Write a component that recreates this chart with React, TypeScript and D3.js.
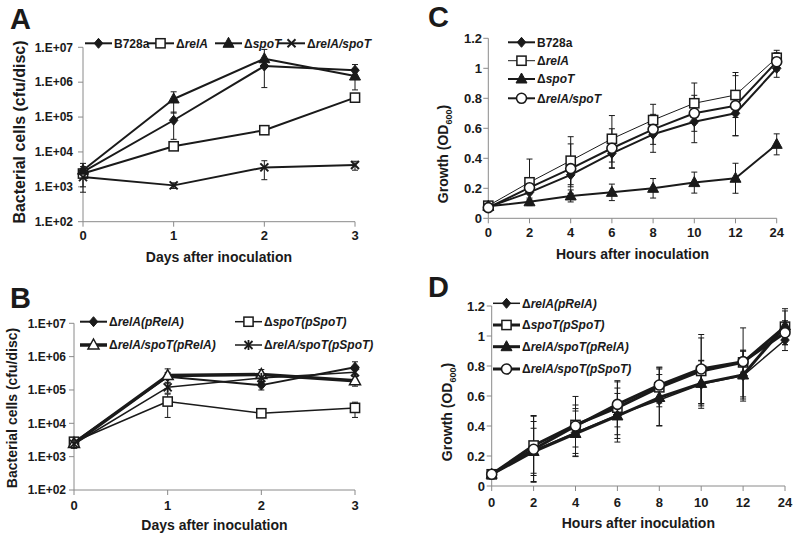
import React from "react";
import * as d3 from "d3";

// ---------- shared ticks ----------
const days = [0, 1, 2, 3];
const hours = ["0", "2", "4", "6", "8", "10", "12", "24"];
const logTicks = [1e2, 1e3, 1e4, 1e5, 1e6, 1e7];
const odTicks = [0, 0.2, 0.4, 0.6, 0.8, 1, 1.2];

// ---------- Panel A ----------
const aB728a = [2700, 81000, 2900000, 2200000];
const aB728aSd = [2000, 58000, 300000, 1000000];
const aRelA = [2400, 14500, 42000, 360000];
const aRelASd = [500, 2000, 5000, 40000];
const aSpoT = [3000, 330000, 4700000, 1500000];
const aSpoTSd = [800, 200000, 4000000, 900000];
const aRelASpoT = [1900, 1100, 3600, 4200];
const aRelASpoTSd = [900, 200, 2000, 1200];

// ---------- Panel B ----------
const bRelAp = [2700, 250000, 140000, 480000];
const bRelApSd = [800, 80000, 40000, 220000];
const bSpoTp = [2800, 45000, 20000, 29000];
const bSpoTpSd = [600, 30000, 3000, 14000];
const bRelASpoTpRelA = [2500, 270000, 290000, 190000];
const bRelASpoTpRelASd = [700, 160000, 120000, 60000];
const bRelASpoTpSpoT = [2400, 120000, 230000, 340000];
const bRelASpoTpSpoTSd = [600, 40000, 60000, 80000];

// ---------- Panel C ----------
const cB728a = [0.075, 0.173, 0.29, 0.433, 0.56, 0.644, 0.7, 1.0];
const cB728aSd = [0.01, 0.05, 0.08, 0.1, 0.12, 0.14, 0.15, 0.06];
const cRelA = [0.084, 0.24, 0.384, 0.53, 0.655, 0.767, 0.822, 1.07];
const cRelASd = [0.01, 0.155, 0.16, 0.155, 0.105, 0.135, 0.15, 0.05];
const cSpoT = [0.08, 0.11, 0.149, 0.173, 0.2, 0.238, 0.267, 0.493];
const cSpoTSd = [0.01, 0.025, 0.04, 0.055, 0.065, 0.07, 0.1, 0.07];
const cRelASpoT = [0.071, 0.204, 0.331, 0.467, 0.593, 0.7, 0.751, 1.044];
const cRelASpoTSd = [0.01, 0.04, 0.165, 0.13, 0.1, 0.12, 0.2, 0.06];

// ---------- Panel D ----------
const dRelAp = [0.078, 0.235, 0.356, 0.473, 0.573, 0.678, 0.736, 0.973];
const dRelApSd = [0.01, 0.15, 0.16, 0.18, 0.17, 0.16, 0.17, 0.07];
const dSpoTp = [0.078, 0.27, 0.407, 0.522, 0.658, 0.767, 0.824, 1.062];
const dSpoTpSd = [0.01, 0.2, 0.19, 0.18, 0.13, 0.22, 0.23, 0.12];
const dRelASpoTpRelA = [0.078, 0.23, 0.35, 0.467, 0.59, 0.684, 0.74, 1.067];
const dRelASpoTpRelASd = [0.01, 0.2, 0.15, 0.15, 0.19, 0.15, 0.16, 0.1];
const dRelASpoTpSpoT = [0.078, 0.245, 0.4, 0.544, 0.673, 0.78, 0.829, 1.022];
const dRelASpoTpSpoTSd = [0.01, 0.22, 0.14, 0.15, 0.12, 0.23, 0.07, 0.08];

const FONT = "'Liberation Sans', Arial, Helvetica, sans-serif";
const AXIS = "#8a8a8a";
const INK = "#1a1a1a";

type Series = {
  name: string;
  values: number[];
  sd: number[];
  marker: string;
  lw: number;
};

function Marker({ type, x, y }: { type: string; x: number; y: number }) {
  const s = 5;
  switch (type) {
    case "diamond":
      return (
        <path d={`M${x},${y - s}L${x + s * 0.85},${y}L${x},${y + s}L${x - s * 0.85},${y}Z`} fill={INK} stroke={INK} strokeWidth={1} />
      );
    case "square":
      return <rect x={x - 4.6} y={y - 4.6} width={9.2} height={9.2} fill="#fff" stroke={INK} strokeWidth={1.5} />;
    case "triangle":
      return <path d={`M${x},${y - 6}L${x + 5.5},${y + 4}L${x - 5.5},${y + 4}Z`} fill={INK} stroke={INK} strokeWidth={1} />;
    case "triangleOpen":
      return <path d={`M${x},${y - 6}L${x + 5.5},${y + 4}L${x - 5.5},${y + 4}Z`} fill="#fff" stroke={INK} strokeWidth={1.5} />;
    case "circle":
      return <circle cx={x} cy={y} r={5} fill="#fff" stroke={INK} strokeWidth={1.6} />;
    case "x":
      return (
        <g stroke={INK} strokeWidth={2}>
          <line x1={x - 4} y1={y - 4} x2={x + 4} y2={y + 4} />
          <line x1={x - 4} y1={y + 4} x2={x + 4} y2={y - 4} />
        </g>
      );
    case "star":
      return (
        <g stroke={INK} strokeWidth={1.8}>
          <line x1={x - 4} y1={y - 4} x2={x + 4} y2={y + 4} />
          <line x1={x - 4} y1={y + 4} x2={x + 4} y2={y - 4} />
          <line x1={x} y1={y - 5} x2={x} y2={y + 5} />
        </g>
      );
    default:
      return null;
  }
}

function Label({ text, x, y, size = 12, anchor = "start" }: { text: string; x: number; y: number; size?: number; anchor?: string }) {
  const delta = text.startsWith("Δ");
  return (
    <text x={x} y={y} fontFamily={FONT} fontSize={size} fontWeight="bold" fill={INK} textAnchor={anchor}>
      {delta ? (
        <>
          <tspan>Δ</tspan>
          <tspan fontStyle="italic">{text.slice(1)}</tspan>
        </>
      ) : (
        text
      )}
    </text>
  );
}

function PanelSeries({ series, xs, y }: { series: Series[]; xs: number[]; y: (v: number) => number }) {
  const line = d3.line<[number, number]>().x((d) => d[0]).y((d) => d[1]);
  return (
    <g>
      {series.map((s, si) => (
        <g key={"e" + si} stroke={INK} strokeWidth={1}>
          {s.values.map((v, i) => {
            const x = xs[i];
            const hi = y(v + s.sd[i]);
            const lo = y(v - s.sd[i]);
            return (
              <g key={i}>
                <line x1={x} x2={x} y1={hi} y2={lo} />
                <line x1={x - 3} x2={x + 3} y1={hi} y2={hi} />
                <line x1={x - 3} x2={x + 3} y1={lo} y2={lo} />
              </g>
            );
          })}
        </g>
      ))}
      {series.map((s, si) => (
        <g key={"s" + si}>
          <path d={line(s.values.map((v, i) => [xs[i], y(v)]) as [number, number][]) || ""} fill="none" stroke={INK} strokeWidth={s.lw} strokeLinejoin="round" />
          {s.values.map((v, i) => (
            <Marker key={i} type={s.marker} x={xs[i]} y={y(v)} />
          ))}
        </g>
      ))}
    </g>
  );
}

function LegendItem({ s, x, y, len = 27 }: { s: Series; x: number; y: number; len?: number }) {
  return (
    <g>
      <line x1={x} x2={x + len} y1={y} y2={y} stroke={INK} strokeWidth={s.lw} />
      <Marker type={s.marker} x={x + len / 2} y={y} />
      <Label text={s.name} x={x + len + 2} y={y + 4.3} size={12} />
    </g>
  );
}

function LogPanel({
  letter, letterY, x0, x1, yTop, yBot, series, legendPos, yTitleSize, yTitleX, yTitleY, tickBase, titleBase, tickRight,
}: any) {
  const x = d3.scaleLinear().domain([0, 3]).range([x0, x1]);
  const y = d3.scaleLog().domain([1e2, 1e7]).range([yBot, yTop]);
  const yc = (v: number) => y(Math.max(1e2, Math.min(1e7, v)));
  const xs = days.map((d) => x(d));
  return (
    <g>
      <text x={10} y={letterY} fontFamily={FONT} fontWeight="bold" fontSize={29} fill={INK}>{letter}</text>
      <line x1={x0} x2={x0} y1={yTop} y2={yBot} stroke={AXIS} strokeWidth={1} />
      <line x1={x0} x2={x1} y1={yBot} y2={yBot} stroke={AXIS} strokeWidth={1} />
      {logTicks.map((t) => (
        <g key={t}>
          <line x1={x0 - 5} x2={x0} y1={y(t)} y2={y(t)} stroke={AXIS} />
          <text x={tickRight} y={y(t) + 4.3} textAnchor="end" fontFamily={FONT} fontWeight="bold" fontSize={12} fill={INK}>
            {"1.E+0" + Math.round(Math.log10(t))}
          </text>
        </g>
      ))}
      {days.map((d) => (
        <g key={d}>
          <line x1={x(d)} x2={x(d)} y1={yBot} y2={yBot + 5} stroke={AXIS} />
          <text x={x(d)} y={tickBase} textAnchor="middle" fontFamily={FONT} fontWeight="bold" fontSize={13} fill={INK}>{d}</text>
        </g>
      ))}
      <text x={(x0 + x1) / 2} y={titleBase} textAnchor="middle" fontFamily={FONT} fontWeight="bold" fontSize={14} fill={INK}>Days after inoculation</text>
      <text transform={`translate(${yTitleX},${yTitleY}) rotate(-90)`} textAnchor="middle" fontFamily={FONT} fontWeight="bold" fontSize={yTitleSize} fill={INK}>Bacterial cells (cfu/disc)</text>
      <PanelSeries series={series} xs={xs} y={yc} />
      {series.map((s: Series, i: number) => (
        <LegendItem key={i} s={s} x={legendPos[i][0]} y={legendPos[i][1]} />
      ))}
    </g>
  );
}

function ODPanel({ letter, letterY, x0, x1, yTop, yBot, series, legendX, legendYs, yTitleY, tickRight, tickBase, titleBase }: any) {
  const x = d3.scalePoint().domain(hours).range([x0, x1]).padding(0);
  const y = d3.scaleLinear().domain([0, 1.2]).range([yBot, yTop]);
  const xs = hours.map((h) => x(h) as number);
  const yTitleX = x0 - 40;
  return (
    <g>
      <text x={428} y={letterY} fontFamily={FONT} fontWeight="bold" fontSize={29} fill={INK}>{letter}</text>
      <line x1={x0} x2={x0} y1={yTop} y2={yBot} stroke={AXIS} strokeWidth={1} />
      <line x1={x0} x2={x1} y1={yBot} y2={yBot} stroke={AXIS} strokeWidth={1} />
      {odTicks.map((t) => (
        <g key={t}>
          <line x1={x0 - 5} x2={x0} y1={y(t)} y2={y(t)} stroke={AXIS} />
          <text x={tickRight} y={y(t) + 4.5} textAnchor="end" fontFamily={FONT} fontWeight="bold" fontSize={13} fill={INK}>
            {d3.format("~g")(t)}
          </text>
        </g>
      ))}
      {hours.map((h) => (
        <g key={h}>
          <line x1={x(h)!} x2={x(h)!} y1={yBot} y2={yBot + 5} stroke={AXIS} />
          <text x={x(h)!} y={tickBase} textAnchor="middle" fontFamily={FONT} fontWeight="bold" fontSize={13} fill={INK}>{h}</text>
        </g>
      ))}
      <text x={(x0 + x1) / 2} y={titleBase} textAnchor="middle" fontFamily={FONT} fontWeight="bold" fontSize={14} fill={INK}>Hours after inoculation</text>
      <text transform={`translate(${yTitleX},${yTitleY}) rotate(-90)`} textAnchor="middle" fontFamily={FONT} fontWeight="bold" fontSize={14} fill={INK}>
        Growth (OD<tspan fontSize={9} dy={4}>600</tspan><tspan dy={-4}>)</tspan>
      </text>
      <PanelSeries series={series} xs={xs} y={y} />
      {series.map((s: Series, i: number) => (
        <LegendItem key={i} s={s} x={legendX} y={legendYs[i]} />
      ))}
    </g>
  );
}

export default function App() {
  const seriesA: Series[] = [
    { name: "B728a", values: aB728a, sd: aB728aSd, marker: "diamond", lw: 2 },
    { name: "ΔrelA", values: aRelA, sd: aRelASd, marker: "square", lw: 2 },
    { name: "ΔspoT", values: aSpoT, sd: aSpoTSd, marker: "triangle", lw: 2 },
    { name: "ΔrelA/spoT", values: aRelASpoT, sd: aRelASpoTSd, marker: "x", lw: 2 },
  ];
  const seriesB: Series[] = [
    { name: "ΔrelA(pRelA)", values: bRelAp, sd: bRelApSd, marker: "diamond", lw: 2 },
    { name: "ΔspoT(pSpoT)", values: bSpoTp, sd: bSpoTpSd, marker: "square", lw: 1.5 },
    { name: "ΔrelA/spoT(pRelA)", values: bRelASpoTpRelA, sd: bRelASpoTpRelASd, marker: "triangleOpen", lw: 3.5 },
    { name: "ΔrelA/spoT(pSpoT)", values: bRelASpoTpSpoT, sd: bRelASpoTpSpoTSd, marker: "star", lw: 1.5 },
  ];
  const seriesC: Series[] = [
    { name: "B728a", values: cB728a, sd: cB728aSd, marker: "diamond", lw: 2 },
    { name: "ΔrelA", values: cRelA, sd: cRelASd, marker: "square", lw: 1 },
    { name: "ΔspoT", values: cSpoT, sd: cSpoTSd, marker: "triangle", lw: 2 },
    { name: "ΔrelA/spoT", values: cRelASpoT, sd: cRelASpoTSd, marker: "circle", lw: 2 },
  ];
  const seriesD: Series[] = [
    { name: "ΔrelA(pRelA)", values: dRelAp, sd: dRelApSd, marker: "diamond", lw: 1.5 },
    { name: "ΔspoT(pSpoT)", values: dSpoTp, sd: dSpoTpSd, marker: "square", lw: 3 },
    { name: "ΔrelA/spoT(pRelA)", values: dRelASpoTpRelA, sd: dRelASpoTpRelASd, marker: "triangle", lw: 3 },
    { name: "ΔrelA/spoT(pSpoT)", values: dRelASpoTpSpoT, sd: dRelASpoTpSpoTSd, marker: "circle", lw: 3 },
  ];
  return (
    <svg width={800} height={541} style={{ position: "absolute", left: 0, top: 0, background: "#fff" }}>
      <rect width={800} height={541} fill="#fff" />
      <LogPanel
        letter="A" letterY={29} x0={83} x1={355} yTop={47.3} yBot={221.7} series={seriesA}
        legendPos={[[85, 43.3], [147, 43.3], [215, 43.3], [278, 43.3]]}
        yTitleSize={16} yTitleX={25} yTitleY={132} tickBase={240} titleBase={262} tickRight={73}
      />
      <LogPanel
        letter="B" letterY={308} x0={74} x1={355} yTop={323.3} yBot={490} series={seriesB}
        legendPos={[[80, 321.7], [235, 321.7], [80, 345], [235, 345]]}
        yTitleSize={14} yTitleX={17} yTitleY={408} tickBase={510} titleBase={530} tickRight={66}
      />
      <ODPanel
        letter="C" letterY={27} x0={488.3} x1={776.7} yTop={38.3} yBot={218.3} series={seriesC}
        legendX={508} legendYs={[42.3, 60.7, 79, 98.3]} yTitleY={154} tickRight={482} tickBase={237} titleBase={259}
      />
      <ODPanel
        letter="D" letterY={297} x0={491.7} x1={785} yTop={306} yBot={486} series={seriesD}
        legendX={493} legendYs={[303.3, 325, 346.7, 369]} yTitleY={412} tickRight={485} tickBase={507} titleBase={528}
      />
    </svg>
  );
}
